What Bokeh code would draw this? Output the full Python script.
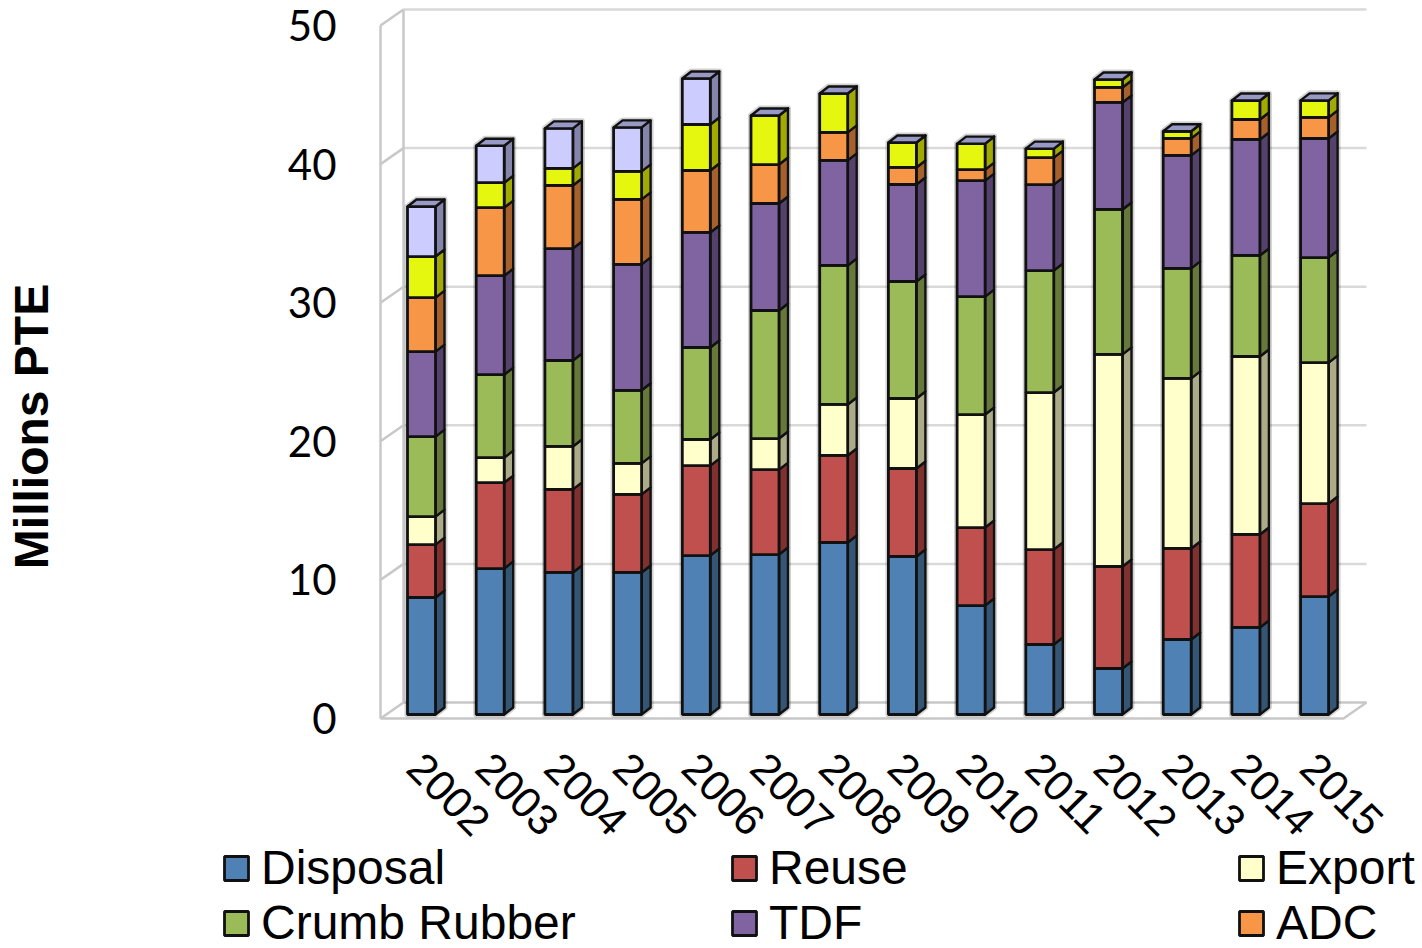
from bokeh.plotting import figure
from bokeh.embed import file_html
from bokeh.resources import INLINE
from bokeh.models import Legend, LegendItem, FixedTicker, LinearAxis, Range1d
from bokeh.core.properties import value
import math

years = ["2002","2003","2004","2005","2006","2007","2008","2009","2010","2011","2012","2013","2014","2015"]
disposal = [8.44,10.53,10.25,10.25,11.47,11.54,12.41,11.40,7.86,5.05,3.32,5.41,6.28,8.51]
reuse    = [3.82,6.20,5.99,5.63,6.49,6.13,6.28,6.35,5.63,6.85,7.36,6.57,6.71,6.71]
export   = [2.02,1.80,3.10,2.24,1.88,2.24,3.68,5.05,8.15,11.33,15.30,12.27,12.84,10.17]
crumb    = [5.77,5.99,6.20,5.27,6.64,9.24,10.03,8.44,8.51,8.80,10.46,7.94,7.29,7.58]
tdf      = [6.13,7.14,8.08,9.09,8.30,7.72,7.58,7.00,8.37,6.20,7.72,8.15,8.37,8.59]
adc      = [3.90,4.91,4.55,4.69,4.47,2.81,2.02,1.23,0.79,1.95,1.08,1.23,1.44,1.52]
yellow   = [2.96,1.80,1.23,2.02,3.32,3.54,2.81,1.80,1.88,0.65,0.58,0.51,1.37,1.23]
lavender = [3.61,2.67,2.89,3.17,3.32,0,0,0,0,0,0,0,0,0]

names = ["Disposal","Reuse","Export","Crumb Rubber","TDF","ADC","",""]
series = [disposal,reuse,export,crumb,tdf,adc,yellow,lavender]
front = ["#4f81b4","#c0504d","#ffffcc","#9bbb59","#8064a2","#f79646","#e6f70f","#ccccff"]
side  = ["#345674","#80302e","#abab88","#66793a","#54426c","#a5602c","#a0aa00","#8585ab"]
top_color = "#9999c6"

# scales (pixels per unit) and 3-D offsets; frame covers the whole canvas
PX_X = 68.7; PX_Y = 13.86
LEFT = 0; RIGHT = 1422; TOP = 0; BOTTOM = 948; ZERO_PX = 718; FIRST_C = 421; WALL_X = 380
xr = Range1d((LEFT-FIRST_C)/PX_X, (RIGHT-FIRST_C)/PX_X)
yr = Range1d(-(BOTTOM-ZERO_PX)/PX_Y, (ZERO_PX-TOP)/PX_Y)

p = figure(width=RIGHT-LEFT, height=BOTTOM-TOP, x_range=xr, y_range=yr, output_backend="svg",
           toolbar_location=None, min_border=0, x_axis_location=None, y_axis_location=None)
p.outline_line_color = None
p.grid.visible = False
p.background_fill_color = "white"
p.border_fill_color = "white"

# walls
wall = "#c8c8c8"; grid = "#d9d9d9"
wx = (WALL_X-FIRST_C)/PX_X        # front-left x
wdx = 23/PX_X; wdy = 16/PX_Y      # wall depth
ticks = [0,10,20,30,40,50]
x_end = wx + (1343-WALL_X)/PX_X
for t in ticks:
    if t > 0:
        p.line([wx+wdx, x_end+wdx], [t+wdy, t+wdy], line_color=grid, line_width=2.5)
    p.line([wx, wx+wdx], [t, t+wdy], line_color=wall, line_width=2.5)
p.line([wx, wx], [0, 50], line_color=wall, line_width=2.5)
p.line([wx+wdx, wx+wdx], [wdy, 50+wdy], line_color=wall, line_width=2.5)
p.line([wx, x_end, x_end+wdx, wx+wdx], [0, 0, wdy, wdy], line_color=wall, line_width=2.5)

# bars
half = 14/PX_X; bdx = 9/PX_X; bdy = 7/PX_Y; base_off = 4/PX_Y
n = len(years)
xs = list(range(n))
totals = [base_off + sum(s[i] for s in series) for i in xs]
# soft halo behind each bar
p.patches([[i-half, i+half, i+half+bdx, i+half+bdx, i-half+bdx, i-half] for i in xs],
          [[base_off, base_off, base_off+bdy, t+bdy, t+bdy, t] for t in totals],
          fill_color=None, line_color="#000000", line_alpha=0.18, line_width=6, line_join="round")
stack = [base_off]*n
quads = []
edge = "#111111"
for k, vals in enumerate(series):
    bottoms = stack
    tops = [b+v for b, v in zip(bottoms, vals)]
    sx = [[i+half, i+half+bdx, i+half+bdx, i+half] for i in xs]
    sy = [[b, b+bdy, t+bdy, t] for b, t in zip(bottoms, tops)]
    p.patches(sx, sy, fill_color=side[k], line_color=edge, line_width=2.4, line_join="round")
    q = p.quad(left=[i-half for i in xs], right=[i+half for i in xs], bottom=bottoms, top=tops,
               fill_color=front[k], line_color=edge, line_width=2.8)
    quads.append(q)
    stack = tops
tx = [[i-half, i+half, i+half+bdx, i-half+bdx] for i in xs]
ty = [[t, t, t+bdy, t+bdy] for t in stack]
p.patches(tx, ty, fill_color=top_color, line_color=edge, line_width=2.4, line_join="round")

# axes
ya = LinearAxis(fixed_location=wx)
ya.ticker = FixedTicker(ticks=ticks)
ya.axis_line_color = None
ya.major_tick_line_color = None
ya.minor_tick_line_color = None
ya.major_label_text_font = "Lato"
ya.major_label_text_font_size = "42px"
ya.major_label_text_color = "#000000"
ya.major_label_standoff = 38
p.add_layout(ya, "left")

label_shift = 0.1
tick_pos = [i - label_shift for i in xs]
xa = LinearAxis(fixed_location=0)
xa.ticker = FixedTicker(ticks=tick_pos)
xa.major_label_overrides = {t: y for t, y in zip(tick_pos, years)}
xa.major_label_orientation = -math.pi/4
xa.major_label_text_font = "Liberation Sans"
xa.major_label_text_font_size = "43px"
xa.major_label_text_color = "#000000"
xa.major_label_standoff = 36
xa.axis_line_color = None
xa.major_tick_line_color = None
xa.minor_tick_line_color = None
p.add_layout(xa, "below")

# y axis title
p.text(x=[(31-FIRST_C)/PX_X], y=[(ZERO_PX-426)/PX_Y], text=["Millions PTE"], angle=math.pi/2,
       text_align="center", text_baseline="middle", text_font=value("Liberation Sans"),
       text_font_style="bold", text_font_size="48px", text_color="#000000")

# legend (third row of the original is cut off)
col_px = [221, 729, 1236]
rows = [(0, 3), (1, 4), (2, 5)]
for cx, (a, b) in zip(col_px, rows):
    leg = Legend(items=[LegendItem(label=names[a], renderers=[quads[a]]),
                        LegendItem(label=names[b], renderers=[quads[b]])],
                 location=(cx-LEFT, -2), orientation="vertical",
                 background_fill_alpha=0, border_line_color=None,
                 padding=0, margin=0, spacing=0, glyph_width=30, glyph_height=30,
                 label_standoff=10, label_height=53, label_text_font="Liberation Sans",
                 label_text_font_size="48px", label_text_color="#000000",
                 label_text_line_height=1.0)
    p.add_layout(leg, "center")

open("out.html", "w").write(file_html(p, INLINE))
